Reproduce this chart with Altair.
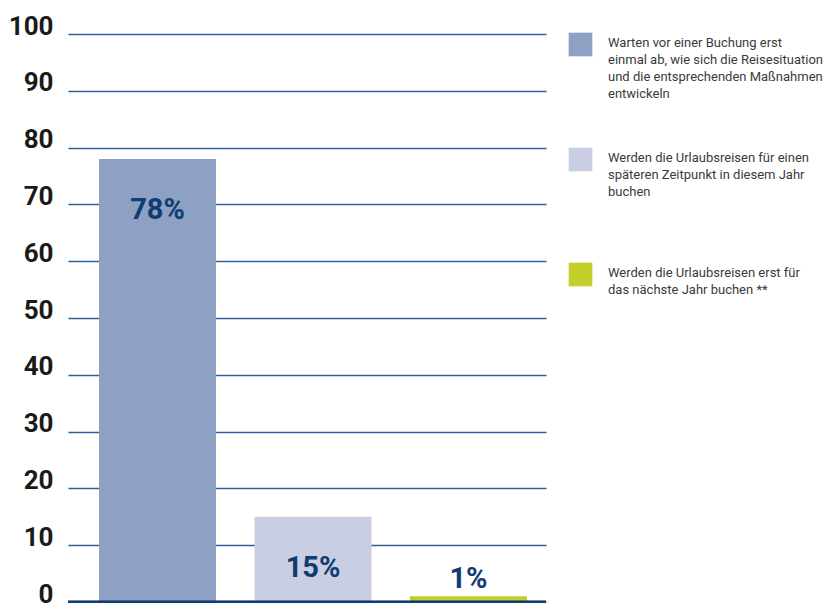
import altair as alt
import pandas as pd

keys = ["a", "b", "c"]
categories = [
    "Warten vor einer Buchung erst\neinmal ab, wie sich die Reisesituation\nund die entsprechenden Maßnahmen\nentwickeln",
    "Werden die Urlaubsreisen für einen\nspäteren Zeitpunkt in diesem Jahr\nbuchen",
    "Werden die Urlaubsreisen erst für\ndas nächste Jahr buchen **",
]
values = [78, 15, 1]
labels = ["78%", "15%", "1%"]
colors = ["#8ea0c3", "#c9cee3", "#c3ce2b"]
y_ticks = list(range(0, 101, 10))

df = pd.DataFrame({"key": keys, "cat": categories, "value": values, "label": labels})

FONT = "Roboto, Liberation Sans, sans-serif"
GRID = "#30609a"
NAVY = "#0e3d72"

color_scale = alt.Scale(domain=keys, range=colors)

base = alt.Chart(df).encode(
    x=alt.X("key:N", sort=None, axis=None,
            scale=alt.Scale(paddingInner=0.2476, paddingOuter=0.1608, align=0.62))
)

bars = base.mark_bar().encode(
    y=alt.Y("value:Q", title=None,
            scale=alt.Scale(domain=[0, 100], nice=False),
            axis=alt.Axis(values=y_ticks, grid=True, gridColor=GRID, gridWidth=1.4,
                          domain=False, ticks=False, labelFont=FONT,
                          labelFontSize=26, labelFontWeight="bold", labelColor="#1a1a1a",
                          labelBaseline="alphabetic", labelPadding=15, labelOffset=0)),
    color=alt.Color("key:N", scale=color_scale, legend=None),
)

text = base.transform_calculate(ly="max(datum.value - 9, 4)").mark_text(
    font=FONT, fontSize=29, fontWeight="bold", color=NAVY, baseline="middle"
).encode(y=alt.Y("ly:Q"), text="label:N")

baseline = alt.Chart(df).mark_rule(color=NAVY, strokeWidth=2.6).encode(y=alt.datum(0))

plot = alt.layer(bars, text, baseline)

leg_base = alt.Chart(df).encode(
    y=alt.Y("key:N", sort=None, axis=None,
            scale=alt.Scale(type="point", padding=0, range=[10.5, 240.5]))
)
leg_sq = leg_base.mark_square(size=560, opacity=1, filled=True).encode(
    x=alt.value(512.5),
    color=alt.Color("key:N", scale=color_scale, legend=None),
)
leg_txt = leg_base.mark_text(
    align="left", baseline="top", dy=-8, lineBreak="\n", lineHeight=17.2,
    font=FONT, fontSize=13, color="#3a3a3a"
).encode(x=alt.value(540), text="cat:N")

legend = alt.layer(leg_sq, leg_txt)

chart = alt.layer(plot, legend).resolve_scale(y="independent").properties(
    width=478, height=568,
    autosize=alt.AutoSizeParams(type="none"),
    padding={"left": 60, "top": 26, "right": 279, "bottom": 1},
).configure_view(stroke=None)

chart.save("out.html", embed_options={"renderer": "svg", "actions": False})
